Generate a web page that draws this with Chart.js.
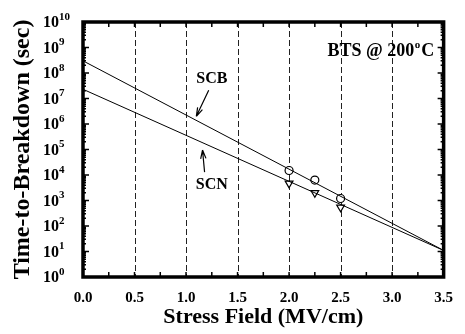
<!DOCTYPE html>
<html>
<head>
<meta charset="utf-8">
<script src="https://cdn.jsdelivr.net/npm/chart.js@4"></script>
<style>
  html, body { margin: 0; padding: 0; background: #fff; }
  #wrap { width: 465px; height: 334px; }
</style>
</head>
<body>
<div id="wrap"><canvas id="tbdChart"></canvas></div>
<script>
// measured data (Stress field MV/cm, time-to-breakdown sec)
const scbField = [2.0, 2.25, 2.5];
const scbTime = [15000, 6300, 1200];
const scnField = [2.0, 2.25, 2.5];
const scnTime = [4700, 2000, 540];
// fitted lines, end points
const scbFitField = [0, 3.5];
const scbFitTime = [3.0e8, 11];
const scnFitField = [0, 3.5];
const scnFitTime = [2.3e7, 11];
const xTicks = [0, 0.5, 1.0, 1.5, 2.0, 2.5, 3.0, 3.5];
const yExponents = [0, 1, 2, 3, 4, 5, 6, 7, 8, 9, 10];

const serif = "'Liberation Serif', 'Times New Roman', serif";

function pts(xs, ys) {
    return xs.map((x, i) => ({x: x, y: ys[i]}));
}

// dashed grid under the data
const gridPlugin = {
    id: 'dashGrid',
    beforeDatasetsDraw(chart) {
        const ctx = chart.ctx;
        const a = chart.chartArea;
        const xs = chart.scales.x;
        ctx.save();
        ctx.strokeStyle = '#222';
        ctx.lineWidth = 1;
        ctx.setLineDash([6, 3]);
        xTicks.slice(1, -1).forEach(v => {
            const px = Math.round(xs.getPixelForValue(v)) + 0.5;
            ctx.beginPath();
            ctx.moveTo(px, a.top);
            ctx.lineTo(px, a.bottom);
            ctx.stroke();
        });
        ctx.restore();
    }
};

// frame, inner ticks, y labels, annotations and arrows
const decorPlugin = {
    id: 'decor',
    afterDatasetsDraw(chart) {
        const ctx = chart.ctx;
        const a = chart.chartArea;
        const xs = chart.scales.x, ys = chart.scales.y;
        ctx.save();
        ctx.strokeStyle = '#000';
        // x ticks every 0.25, top and bottom
        ctx.lineWidth = 1.5;
        for (let v = 0.25; v < 3.5; v += 0.25) {
            const px = xs.getPixelForValue(v);
            ctx.beginPath();
            ctx.moveTo(px, a.bottom); ctx.lineTo(px, a.bottom - 5);
            ctx.moveTo(px, a.top); ctx.lineTo(px, a.top + 5);
            ctx.stroke();
        }
        // y log ticks, left and right
        for (let d = 0; d < 10; d++) {
            for (let m = 1; m <= 9; m++) {
                const py = ys.getPixelForValue(m * Math.pow(10, d));
                const len = m === 1 ? 6 : 3;
                ctx.beginPath();
                ctx.moveTo(a.left, py); ctx.lineTo(a.left + len, py);
                ctx.moveTo(a.right, py); ctx.lineTo(a.right - len, py);
                ctx.stroke();
            }
        }
        // frame
        ctx.lineWidth = 3.5;
        ctx.strokeRect(a.left, a.top, a.right - a.left, a.bottom - a.top);

        ctx.fillStyle = '#000';
        ctx.textBaseline = 'middle';

        // y tick labels 10^n, left aligned
        yExponents.forEach(e => {
            const py = ys.getPixelForValue(Math.pow(10, e));
            const lx = a.left - 40;
            ctx.textAlign = 'left';
            ctx.font = 'bold 16px ' + serif;
            ctx.fillText('10', lx, py + 1);
            const w = ctx.measureText('10').width;
            ctx.font = 'bold 11px ' + serif;
            ctx.fillText(String(e), lx + w, py - 5);
        });

        // text labels
        ctx.textAlign = 'center';
        ctx.font = 'bold 16px ' + serif;
        ctx.fillText('SCB', xs.getPixelForValue(1.25), ys.getPixelForValue(6e7));
        ctx.fillText('SCN', xs.getPixelForValue(1.25), ys.getPixelForValue(4e3));

        // BTS @ 200°C, right edge placed at x = 3.41
        const big = 'bold 18px ' + serif, small = 'bold 11px ' + serif;
        ctx.textAlign = 'left';
        ctx.font = big;
        const main = 'BTS @ 200';
        const wMain = ctx.measureText(main).width;
        const wC = ctx.measureText('C').width;
        ctx.font = small;
        const wO = ctx.measureText('o').width;
        const endX = xs.getPixelForValue(3.41);
        const by = ys.getPixelForValue(7e8);
        const bx = endX - (wMain + wO + 1.5 + wC);
        ctx.font = big;
        ctx.fillText(main, bx, by);
        ctx.font = small;
        ctx.fillText('o', bx + wMain + 0.5, by - 6);
        ctx.font = big;
        ctx.fillText('C', bx + wMain + wO + 1.5, by);

        // arrows
        ctx.lineWidth = 1.2;
        function arrow(x1, y1, x2, y2) {
            const p1x = xs.getPixelForValue(x1), p1y = ys.getPixelForValue(y1);
            const p2x = xs.getPixelForValue(x2), p2y = ys.getPixelForValue(y2);
            const ang = Math.atan2(p2y - p1y, p2x - p1x);
            ctx.beginPath();
            ctx.moveTo(p1x, p1y); ctx.lineTo(p2x, p2y);
            ctx.moveTo(p2x, p2y);
            ctx.lineTo(p2x - 9 * Math.cos(ang - 0.3), p2y - 9 * Math.sin(ang - 0.3));
            ctx.moveTo(p2x, p2y);
            ctx.lineTo(p2x - 9 * Math.cos(ang + 0.3), p2y - 9 * Math.sin(ang + 0.3));
            ctx.stroke();
        }
        arrow(1.22, 2.1e7, 1.10, 2.0e6);
        arrow(1.18, 1.3e4, 1.16, 9.5e4);
        ctx.restore();
    }
};

const ctxT = document.getElementById('tbdChart').getContext('2d');

const tbdChart = new Chart(ctxT, {
    type: 'scatter',
    plugins: [gridPlugin, decorPlugin],
    data: {
        datasets: [{
            label: 'SCB fit',
            data: pts(scbFitField, scbFitTime),
            showLine: true,
            borderColor: '#000',
            borderWidth: 1,
            pointRadius: 0
        }, {
            label: 'SCN fit',
            data: pts(scnFitField, scnFitTime),
            showLine: true,
            borderColor: '#000',
            borderWidth: 1,
            pointRadius: 0
        }, {
            label: 'SCB',
            data: pts(scbField, scbTime),
            pointStyle: 'circle',
            pointRadius: 4,
            backgroundColor: '#fff',
            borderColor: '#000',
            borderWidth: 1.2
        }, {
            label: 'SCN',
            data: pts(scnField, scnTime),
            pointStyle: 'triangle',
            rotation: 180,
            pointRadius: 4.5,
            backgroundColor: '#fff',
            borderColor: '#000',
            borderWidth: 1.2
        }]
    },
    options: {
        responsive: true,
        maintainAspectRatio: false,
        animation: false,
        layout: {
            padding: {top: 22, right: 11, left: 0, bottom: 0}
        },
        plugins: {
            legend: {display: false},
            tooltip: {enabled: false}
        },
        scales: {
            x: {
                type: 'linear',
                min: 0,
                max: 3.5,
                afterBuildTicks: (scale) => {
                    scale.ticks = xTicks.map(v => ({value: v}));
                },
                afterFit: (scale) => { scale.height = 57; },
                ticks: {
                    color: '#000',
                    padding: 12,
                    maxRotation: 0,
                    font: {family: serif, size: 15, weight: 'bold'},
                    callback: (v) => Number(v).toFixed(1)
                },
                grid: {display: false, drawTicks: false},
                border: {display: false},
                title: {
                    display: true,
                    text: 'Stress Field (MV/cm)',
                    color: '#000',
                    padding: {top: 0, bottom: 3},
                    font: {family: serif, size: 22, weight: 'bold'}
                }
            },
            y: {
                type: 'logarithmic',
                min: 1,
                max: 1e10,
                afterFit: (scale) => { scale.width = 83; },
                ticks: {display: false},
                grid: {display: false},
                border: {display: false},
                title: {
                    display: true,
                    text: 'Time-to-Breakdown (sec)',
                    color: '#000',
                    padding: {top: 8, bottom: 0},
                    font: {family: serif, size: 24, weight: 'bold'}
                }
            }
        }
    }
});
</script>
</body>
</html>
